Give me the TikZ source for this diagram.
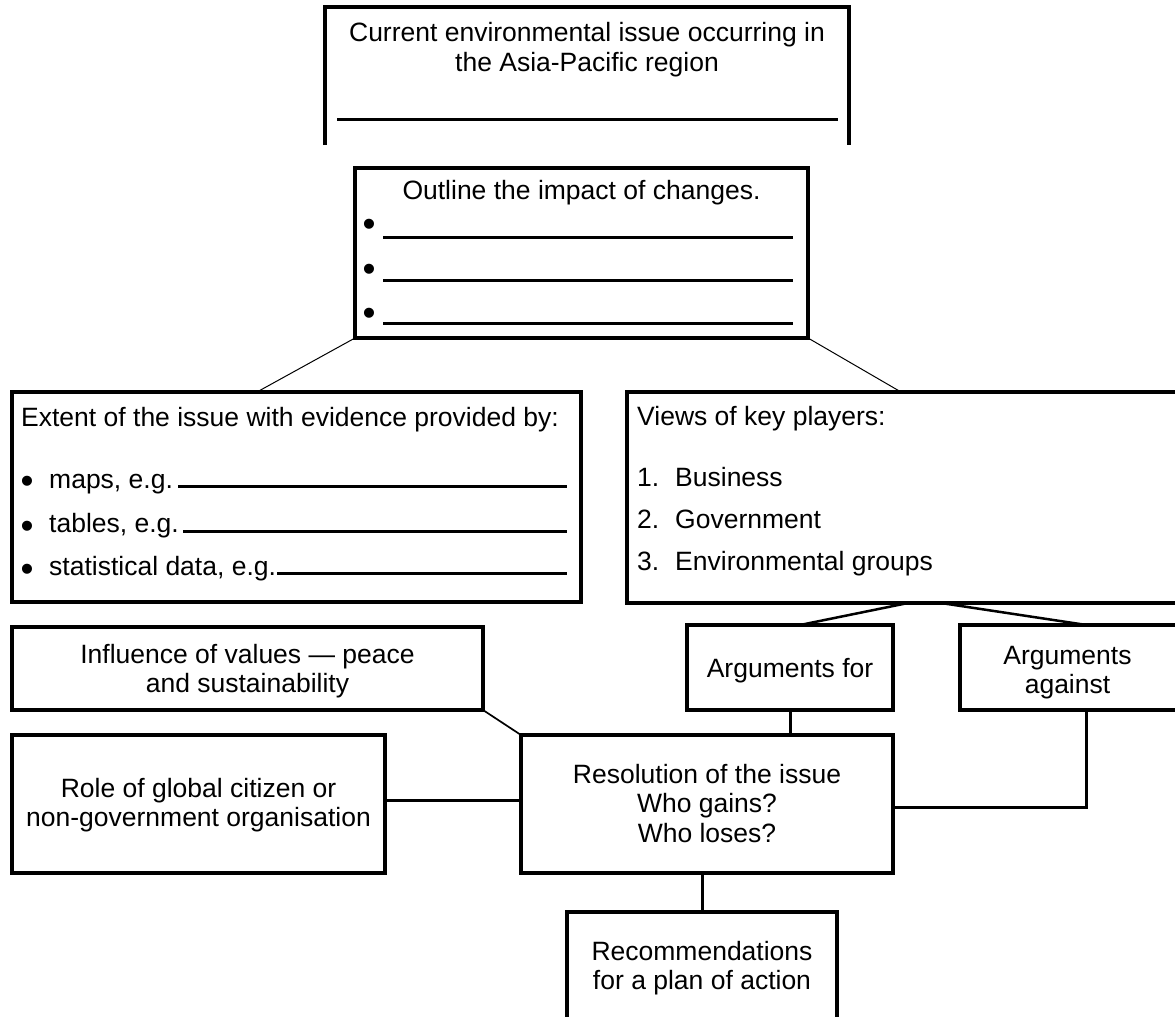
\documentclass[tikz,border=0pt]{standalone}
\usepackage{fontspec}
\setmainfont{Liberation Sans}
\begin{document}
\begin{tikzpicture}[x=1pt,y=-1pt,
  box/.style={draw, line width=4pt, inner sep=0pt, outer sep=0pt},
  openbox/.style={inner sep=0pt, outer sep=0pt},
  boxline/.style={line width=4pt},
  txt/.style={font=\fontsize{26.5}{29.5}\selectfont, align=center, inner sep=0pt, anchor=base},
  ltxt/.style={txt, anchor=base west, align=left},
  bul/.style={font=\fontsize{37}{37}\selectfont, inner sep=0pt, anchor=center},
  blank/.style={line width=3pt},
  conn/.style={line width=3pt},
  midconn/.style={line width=2.5pt},
  thinconn/.style={line width=1pt}]
\useasboundingbox (0,0) rectangle (1175,1017);

% top box (open bottom)
\node[openbox, minimum width=524pt, minimum height=138pt] (top) at (587,76) {};
\draw[boxline] (top.south west) -- (top.north west) -- (top.north east) -- (top.south east);
\node[txt] (toptxt) at (587,71) {Current environmental issue occurring in\\the Asia-Pacific region};
\draw[blank] (337,119) -- (838,119);

% outline box
\node[box, minimum width=453pt, minimum height=170pt] (out) at (581.5,253) {};
\node[txt] (outtitle) at (581.5,199) {Outline the impact of changes.};
\node[bul] (ob1) at (369,228) {•};
\node[bul] (ob2) at (369,273) {•};
\node[bul] (ob3) at (369,317) {•};
\draw[blank] (383,237) -- (793,237);
\draw[blank] (383,280) -- (793,280);
\draw[blank] (383,323) -- (793,323);

% extent box
\node[box, minimum width=569pt, minimum height=210pt] (ext) at (296.5,497) {};
\node[ltxt] (exttitle) at (21,426) {Extent of the issue with evidence provided by:};
\node[bul] (eb1) at (27,484.5) {•};
\node[bul] (eb2) at (27,529.5) {•};
\node[bul] (eb3) at (27,572.5) {•};
\node[ltxt] (emaps) at (49,488) {maps, e.g.};
\node[ltxt] (etables) at (49,532) {tables, e.g.};
\node[ltxt] (estat) at (49,575) {statistical data, e.g.};
\draw[blank] (178,486) -- (567,486);
\draw[blank] (183,531) -- (567,531);
\draw[blank] (277,573) -- (567,573);

% views box (open right)
\node[openbox, minimum width=548pt, minimum height=211pt] (views) at (901,497.5) {};
\draw[boxline] (views.north east) -- (views.north west) -- (views.south west) -- (views.south east);
\node[ltxt] (viewstitle) at (637,425) {Views of key players:};
\node[ltxt] (vn1) at (637,486) {1.};
\node[ltxt] (vn2) at (637,528) {2.};
\node[ltxt] (vn3) at (637,570) {3.};
\node[ltxt] (vt1) at (675,486) {Business};
\node[ltxt] (vt2) at (675,528) {Government};
\node[ltxt] (vt3) at (675,570) {Environmental groups};

% influence box
\node[box, minimum width=471pt, minimum height=83pt] (infl) at (247.5,668.5) {};
\node[txt] (infltxt) at (247.5,692.5) {Influence of values — peace\\and sustainability};

% arguments for
\node[box, minimum width=206pt, minimum height=85pt] (afor) at (790,667.5) {};
\node[txt] (afortxt) at (790,677) {Arguments for};

% arguments against (open right)
\node[openbox, minimum width=215pt, minimum height=85pt] (against) at (1067.5,667.5) {};
\draw[boxline] (against.north east) -- (against.north west) -- (against.south west) -- (against.south east);
\node[txt] (againsttxt) at (1067.5,693.5) {Arguments\\against};

% role box
\node[box, minimum width=373pt, minimum height=138pt] (role) at (198.5,804) {};
\node[txt] (roletxt) at (198.5,826.5) {Role of global citizen or\\non-government organisation};

% resolution box
\node[box, minimum width=372pt, minimum height=138pt] (res) at (707,804) {};
\node[txt] (restxt) at (707,842) {Resolution of the issue\\Who gains?\\Who loses?};

% recommendations box (open bottom)
\node[openbox, minimum width=270pt, minimum height=105pt] (rec) at (702,964.5) {};
\draw[boxline] (rec.south west) -- (rec.north west) -- (rec.north east) -- (rec.south east);
\node[txt] (rectxt) at (702,989.5) {Recommendations\\for a plan of action};

% connectors
\draw[thinconn] (out.south west) -- ([xshift=-39.5pt]ext.north);
\draw[thinconn] (out.south east) -- (views.north);
\draw[midconn] ([xshift=7pt]views.south) -- ([xshift=10pt]afor.north);
\draw[midconn] ([xshift=40pt]views.south) -- ([xshift=19pt]against.north);
\draw[line width=1.7pt] (infl.south east) -- (res.north west);
\draw[conn] ([yshift=4pt]role.east) -- ([yshift=4pt]res.west);
\draw[conn] (afor.south) -- (afor.south |- res.north);
\draw[conn] ([xshift=19pt]against.south) |- ([yshift=-3pt]res.east);
\draw[conn] (rec.north |- res.south) -- (rec.north);
\end{tikzpicture}
\end{document}
